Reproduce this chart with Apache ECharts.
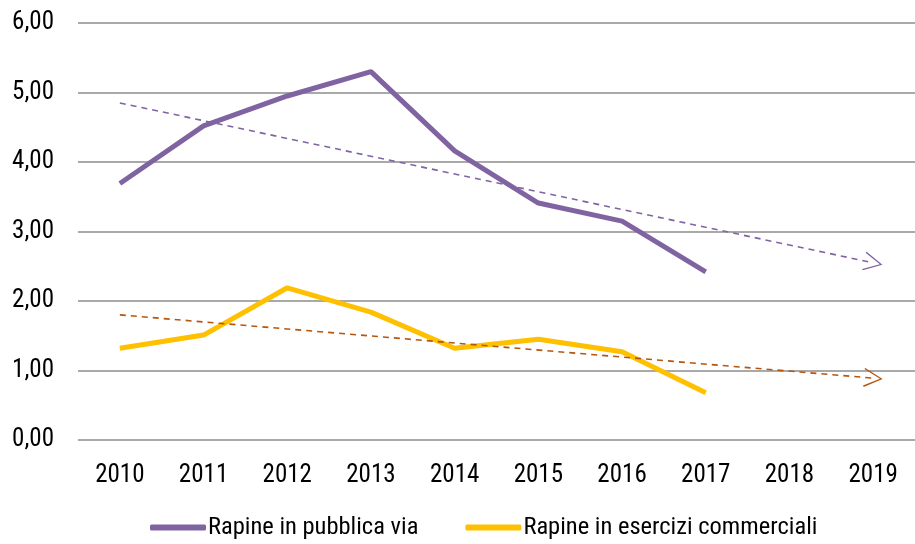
<!doctype html>
<html lang="it">
<head>
<meta charset="UTF-8">
<title>Rapine</title>
<script src="https://cdn.jsdelivr.net/npm/echarts@6/dist/echarts.min.js"></script>
<style>
  html, body { margin: 0; padding: 0; background: #fff; }
  #chart { width: 915px; height: 544px; }
</style>
</head>
<body>
<div id="chart"></div>
<script>
var anni = ['2010', '2011', '2012', '2013', '2014', '2015', '2016', '2017', '2018', '2019'];
var pubblicaVia = [3.69, 4.52, 4.95, 5.30, 4.16, 3.41, 3.15, 2.42, null, null];
var eserciziComm = [1.32, 1.51, 2.19, 1.84, 1.32, 1.45, 1.27, 0.68, null, null];
// tendenze: valore iniziale (2010) e finale (2019)
var trendVia = [4.85, 2.55];
var trendEsercizi = [1.80, 0.89];
var yTicks = [0, 1, 2, 3, 4, 5, 6];

var font = '"Roboto Condensed", "Roboto", sans-serif';
var arrow = 'path://M0,0 L10,18 L8.7,18.8 L0,2.6 L-8.7,18.8 L-10,18 Z';

function trendLine(v, col) {
    return {
        silent: true,
        symbol: ['none', arrow],
        symbolSize: [19, 19],
        label: { show: false },
        lineStyle: { color: col, type: [6, 5], width: 1.6 },
        itemStyle: { color: col },
        data: [[{ coord: [anni[0], v[0]] }, { coord: [anni[anni.length - 1], v[1]] }]]
    };
}

var chart = echarts.init(document.getElementById('chart'));
var option = {
    animation: false,
    textStyle: { fontFamily: font },
    grid: { left: 78, top: 23, width: 841, height: 417 },
    legend: {
        left: 145,
        bottom: -1,
        itemWidth: 56,
        itemHeight: 6,
        itemGap: 47,
        icon: 'roundRect',
        textStyle: { fontSize: 24.5, color: '#000', fontFamily: font, padding: [0, 0, 0, -3] },
        data: ['Rapine in pubblica via', 'Rapine in esercizi commerciali']
    },
    xAxis: {
        type: 'category',
        data: anni,
        boundaryGap: true,
        axisLine: { show: false },
        axisTick: { show: false },
        axisLabel: { fontSize: 25, color: '#000', margin: 23, fontFamily: font }
    },
    yAxis: {
        type: 'value',
        min: yTicks[0],
        max: yTicks[yTicks.length - 1],
        interval: 1,
        axisLabel: {
            fontSize: 25, color: '#000', margin: 24, fontFamily: font,
            formatter: function (v) { return v.toFixed(2).replace('.', ','); }
        },
        splitLine: { lineStyle: { color: '#8c8c8c', width: 1.5 } }
    },
    series: [
        {
            name: 'Rapine in pubblica via',
            type: 'line',
            data: pubblicaVia,
            symbol: 'none',
            color: '#8064A2',
            lineStyle: { width: 5, color: '#8064A2' },
            markLine: trendLine(trendVia, '#8064A2')
        },
        {
            name: 'Rapine in esercizi commerciali',
            type: 'line',
            data: eserciziComm,
            symbol: 'none',
            color: '#FFC000',
            lineStyle: { width: 5, color: '#FFC000' },
            markLine: trendLine(trendEsercizi, '#B5560F')
        }
    ]
};
chart.setOption(option);
</script>
</body>
</html>
